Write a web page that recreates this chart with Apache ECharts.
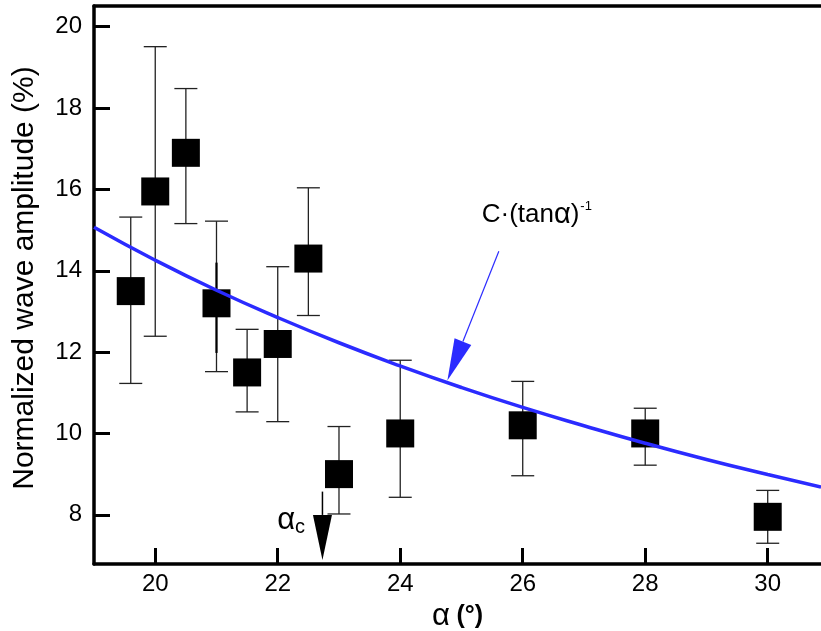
<!DOCTYPE html>
<html>
<head>
<meta charset="utf-8">
<script src="https://cdn.jsdelivr.net/npm/echarts@6/dist/echarts.min.js"></script>
<style>
html,body{margin:0;padding:0;background:#fff;}
#chart{width:821px;height:631px;}
</style>
</head>
<body>
<div id="chart"></div>
<script>
// ---- data ----
const alpha = [19.6, 20.0, 20.5, 21.0, 21.5, 22.0, 22.5, 23.0, 24.0, 26.0, 28.0, 30.0];
const amplitude = [13.5, 15.95, 16.9, 13.2, 11.5, 12.2, 14.3, 9.0, 10.0, 10.2, 10.0, 7.95];
const errLow = [11.23, 12.39, 15.16, 11.52, 10.53, 10.29, 12.9, 8.02, 8.43, 8.96, 9.22, 7.30];
const errHigh = [15.32, 19.51, 18.48, 15.22, 12.56, 14.1, 16.04, 10.17, 11.8, 11.28, 10.62, 8.6];
// overlapping inner error segment at 21°
const innerAlpha = [21.0];
const innerLow = [11.98];
const innerHigh = [14.2];
// fitted curve C·(tanα)^-1
const fitAlpha = [19, 20, 21, 22, 23, 24, 25, 26, 27, 28, 29, 30, 30.87];
const fitAmp = [15.07, 14.26, 13.52, 12.85, 12.23, 11.66, 11.13, 10.64, 10.19, 9.76, 9.36, 8.99, 8.68];
// ticks
const xTicks = [20, 22, 24, 26, 28, 30];
const yTicks = [8, 10, 12, 14, 16, 18, 20];
// annotations (data coordinates)
const fitArrowFrom = [25.61, 14.48];
const fitArrowTo = [24.77, 11.30];
const fitLabelPos = [25.33, 15.37];
const critArrowFrom = [22.73, 8.57];
const critArrowTo = [22.73, 6.89];
const critLabelPos = [21.99, 7.85];

const FONT = 'Arial, "Liberation Sans", Helvetica, sans-serif';
const BLUE = '#2b2bff';

const chart = echarts.init(document.getElementById('chart'), null, {renderer: 'canvas'});

function errRender(capHalf, width, color) {
  return function (params, api) {
    const x = api.value(0);
    const lo = api.coord([x, api.value(1)]);
    const hi = api.coord([x, api.value(2)]);
    const style = {stroke: color, lineWidth: width};
    const children = [
      {type: 'line', shape: {x1: lo[0], y1: lo[1], x2: hi[0], y2: hi[1]}, style: style}
    ];
    if (capHalf > 0) {
      children.push({type: 'line', shape: {x1: lo[0] - capHalf, y1: lo[1], x2: lo[0] + capHalf, y2: lo[1]}, style: style});
      children.push({type: 'line', shape: {x1: hi[0] - capHalf, y1: hi[1], x2: hi[0] + capHalf, y2: hi[1]}, style: style});
    }
    return {type: 'group', children: children};
  };
}

const option = {
  backgroundColor: '#fff',
  animation: false,
  grid: {left: 94, right: 0, top: 6, bottom: 67, containLabel: false, outerBoundsMode: 'none'},
  xAxis: [{
    type: 'value', min: 19, max: 30.87,
    name: '{a|α} {b|(°)}', nameLocation: 'middle', nameGap: 30,
    nameTextStyle: {
      fontFamily: FONT, fontSize: 24, color: '#000',
      rich: {a: {fontFamily: FONT, fontSize: 31, color: '#000'}, b: {fontFamily: FONT, fontSize: 25, fontWeight: 'bold', color: '#000'}}
    },
    axisLine: {show: true, onZero: false, lineStyle: {color: '#000', width: 3.5}},
    axisTick: {show: true, inside: true, length: 16, customValues: xTicks, lineStyle: {color: '#000', width: 3}},
    axisLabel: {show: true, customValues: xTicks, margin: 8, fontFamily: FONT, fontSize: 24, color: '#000'},
    splitLine: {show: false}
  }, {
    type: 'value', min: 19, max: 30.87, position: 'top',
    axisLine: {show: true, onZero: false, lineStyle: {color: '#000', width: 3.5}},
    axisTick: {show: false}, axisLabel: {show: false}, splitLine: {show: false}
  }],
  yAxis: [{
    type: 'value', min: 6.79, max: 20.51,
    name: 'Normalized wave amplitude (%)', nameLocation: 'middle', nameGap: 54,
    nameTextStyle: {fontFamily: FONT, fontSize: 30, color: '#000', padding: [0, 0, 0, 14]},
    axisLine: {show: true, onZero: false, lineStyle: {color: '#000', width: 3.5}},
    axisTick: {show: true, inside: true, length: 16, customValues: yTicks, lineStyle: {color: '#000', width: 3}},
    axisLabel: {show: true, customValues: yTicks, margin: 12, fontFamily: FONT, fontSize: 24, color: '#000'},
    splitLine: {show: false}
  }],
  series: [
    {
      type: 'custom', name: 'error', xAxisIndex: 0, yAxisIndex: 0, z: 2,
      renderItem: errRender(11.5, 1.3, '#222'),
      encode: {x: 0, y: [1, 2]},
      data: alpha.map((a, i) => [a, errLow[i], errHigh[i]])
    },
    {
      type: 'custom', name: 'inner', xAxisIndex: 0, yAxisIndex: 0, z: 2,
      renderItem: errRender(0, 2.2, '#000'),
      encode: {x: 0, y: [1, 2]},
      data: innerAlpha.map((a, i) => [a, innerLow[i], innerHigh[i]])
    },
    {
      type: 'scatter', name: 'data', xAxisIndex: 0, yAxisIndex: 0, z: 3,
      symbol: 'rect', symbolSize: 28,
      itemStyle: {color: '#000', opacity: 1},
      data: alpha.map((a, i) => [a, amplitude[i]])
    },
    {
      type: 'line', name: 'fit', xAxisIndex: 0, yAxisIndex: 0, z: 4,
      smooth: true, showSymbol: false, symbol: 'none',
      lineStyle: {color: BLUE, width: 3.5},
      data: fitAlpha.map((a, i) => [a, fitAmp[i]])
    }
  ]
};
chart.setOption(option);

function px(p) { return chart.convertToPixel({gridIndex: 0}, p); }
function arrow(fromD, toD, color, lineW, headLen, headW) {
  const f = px(fromD), t = px(toD);
  const dx = t[0] - f[0], dy = t[1] - f[1];
  const L = Math.sqrt(dx * dx + dy * dy);
  const ux = dx / L, uy = dy / L;
  const bx = t[0] - ux * headLen, by = t[1] - uy * headLen;
  const nx = -uy, ny = ux;
  return [
    {type: 'line', z: 10, shape: {x1: f[0], y1: f[1], x2: bx, y2: by}, style: {stroke: color, lineWidth: lineW}},
    {type: 'polygon', z: 10, shape: {points: [[t[0], t[1]], [bx + nx * headW / 2, by + ny * headW / 2], [bx - nx * headW / 2, by - ny * headW / 2]]}, style: {fill: color}}
  ];
}
const fl = px(fitLabelPos), cl = px(critLabelPos);
const graphics = []
  .concat(arrow(fitArrowFrom, fitArrowTo, BLUE, 1.2, 42, 18))
  .concat(arrow(critArrowFrom, critArrowTo, '#000', 1.5, 45, 19))
  .concat([
    {type: 'text', z: 10, x: fl[0], y: fl[1], style: {
      text: '{m|C·(tan}{g|α}{m|)}{s|-1}', verticalAlign: 'middle', align: 'left',
      rich: {
        m: {fontFamily: FONT, fontSize: 26, fill: '#000'},
        g: {fontFamily: FONT, fontSize: 29, fill: '#000'},
        s: {fontFamily: FONT, fontSize: 13, fill: '#000', padding: [0, 0, 18, 1]}
      }
    }},
    {type: 'text', z: 10, x: cl[0], y: cl[1], style: {
      text: '{m|α}{s|c}', verticalAlign: 'middle', align: 'left',
      rich: {m: {fontFamily: FONT, fontSize: 31, fill: '#000'}, s: {fontFamily: FONT, fontSize: 20, fill: '#000', padding: [14, 0, 0, 0]}}
    }}
  ]);
chart.setOption({graphic: graphics});
</script>
</body>
</html>
